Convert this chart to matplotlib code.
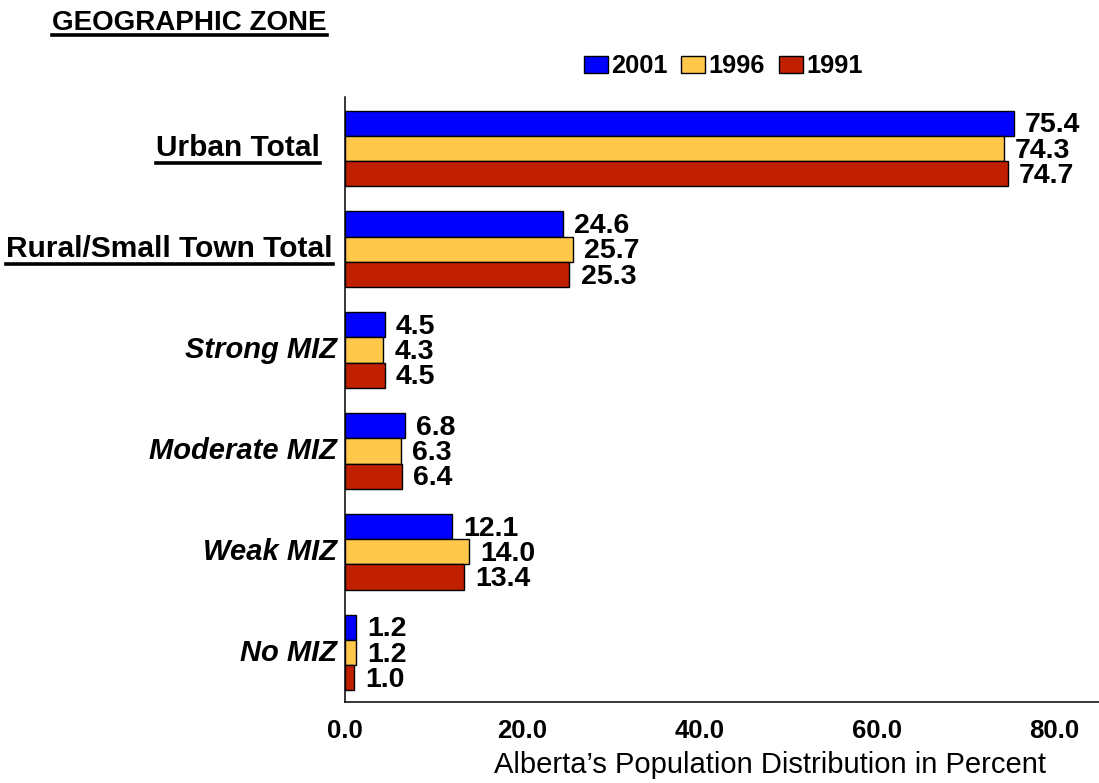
import numpy as np
import matplotlib
matplotlib.use("Agg")
import matplotlib.pyplot as plt
from matplotlib.lines import Line2D

plt.rcParams["font.family"] = ["Liberation Sans", "DejaVu Sans"]

zones = ["Urban Total", "Rural/Small Town Total", "Strong MIZ",
         "Moderate MIZ", "Weak MIZ", "No MIZ"]
years = ["2001", "1996", "1991"]
pct_2001 = [75.4, 24.6, 4.5, 6.8, 12.1, 1.2]
pct_1996 = [74.3, 25.7, 4.3, 6.3, 14.0, 1.2]
pct_1991 = [74.7, 25.3, 4.5, 6.4, 13.4, 1.0]
x_ticks = [0, 20, 40, 60, 80]

colors = ["#0000FF", "#FFC84B", "#C02000"]
series = [pct_2001, pct_1996, pct_1991]

fig = plt.figure(figsize=(10.99, 7.83), dpi=100)
ax = fig.add_axes([345 / 1099, 1 - 702 / 783, 1 - 345 / 1099, (702 - 97) / 783])

pos = np.arange(len(zones))
h = 0.25
for k, (vals, col, yr) in enumerate(zip(series, colors, years)):
    y = pos + (k - 1) * h
    ax.barh(y, vals, height=h, color=col, edgecolor="black", linewidth=1.0,
            label=yr)
    for yy, v in zip(y, vals):
        ax.annotate(f"{v:.1f}", (v, yy), xytext=(8, -1.5),
                    textcoords="offset points", ha="left", va="center",
                    fontsize=20.5, fontweight="bold")

ax.set_xlim(0, 85)
ax.set_ylim(len(zones) - 1 + 0.49, -0.51)
ax.set_xticks(x_ticks, [f"{t:.1f}" for t in x_ticks])
ax.set_yticks([])
ax.tick_params(axis="x", length=0, pad=12, labelsize=18.5)
for lab in ax.get_xticklabels():
    lab.set_fontweight("bold")
for s in ["top", "right"]:
    ax.spines[s].set_visible(False)
for s in ["left", "bottom"]:
    ax.spines[s].set_linewidth(1.1)

# category labels (first two underlined, the MIZ ones italic)
trans = ax.get_yaxis_transform()
ylabels = []
for i, z in enumerate(zones):
    if i < 2:
        xoff = -0.033 if i == 0 else -0.016
        t = ax.text(xoff, i, z, transform=trans, ha="right", va="center",
                    fontsize=21.5, fontweight="bold")
        ylabels.append(t)
    else:
        ax.text(-0.011, i, z, transform=trans, ha="right", va="center",
                fontsize=21, fontweight="bold", style="italic")

title = fig.text(52 / 1099, 1 - 23 / 783, "GEOGRAPHIC ZONE", ha="left",
                 va="center", fontsize=20, fontweight="bold")

fig.text(770 / 1099, 1 - 765 / 783, "Alberta\u2019s Population Distribution in Percent",
         ha="center", va="center", fontsize=21)

fig.legend(loc="center", bbox_to_anchor=(723 / 1099, 1 - 66 / 783), ncol=3,
           frameon=False, prop={"size": 18.3, "weight": "bold"},
           handlelength=0.95, handleheight=0.65, handletextpad=0.12,
           columnspacing=0.55, borderpad=0, borderaxespad=0)

# underline helper
fig.canvas.draw()
renderer = fig.canvas.get_renderer()


def underline(txt, gap=2, lw=2.6):
    bb = txt.get_window_extent(renderer)
    x0, x1 = bb.x0 / fig.bbox.width, bb.x1 / fig.bbox.width
    yb = (bb.y0 + 1 - gap) / fig.bbox.height
    fig.add_artist(Line2D([x0, x1], [yb, yb], color="black", lw=lw,
                          transform=fig.transFigure))


underline(title, gap=0)
for t in ylabels:
    underline(t)

fig.savefig("out.png", dpi=100)
